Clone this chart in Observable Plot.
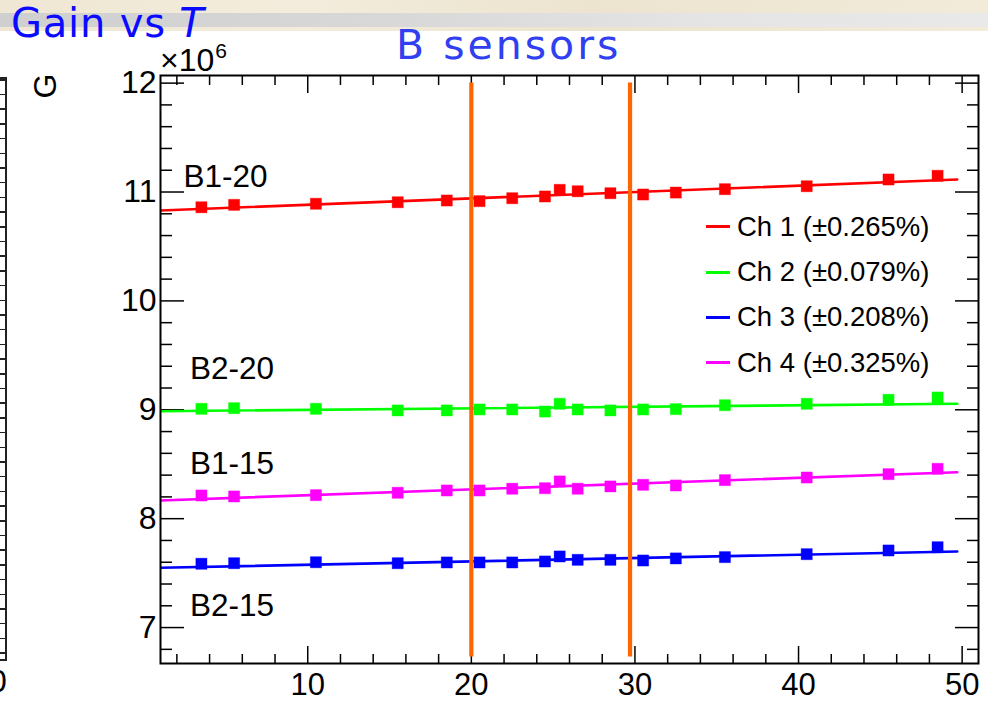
<!DOCTYPE html>
<html>
<head>
<meta charset="utf-8">
<script src="https://cdn.jsdelivr.net/npm/d3@7"></script>
<script src="https://cdn.jsdelivr.net/npm/@observablehq/plot@0.6"></script>
<style>
  html, body { margin: 0; padding: 0; background: #fff; width: 988px; height: 701px; overflow: hidden; }
  body { position: relative; font-family: "Liberation Sans", Arial, sans-serif; }
  #strip { position: absolute; left: 0; top: 0; width: 988px; height: 31px;
    background: linear-gradient(90deg, #efe7d3, #f3ecdc 30%, #ece4cf 60%, #f2ebda); }
  #band { position: absolute; left: 0; top: 13px; width: 988px; height: 14px;
    background: linear-gradient(90deg, #cfcfcf, #d8d8d8 40%, #e4e4e4 70%, #e9e9e9); }
  #chart { position: absolute; left: 0; top: 0; }
  .ttl { position: absolute; font-family: "DejaVu Sans", sans-serif; white-space: nowrap; line-height: 0.9; }
  #t1 { left: 11px; top: 5px; font-size: 40px; color: #0a0aff; letter-spacing: 0.8px; }
  #t2 { left: 396px; top: 27px; font-size: 41px; color: #3040f0; letter-spacing: 3px; }
  #mult { position: absolute; left: 160px; top: 46px; font-size: 32px; line-height: 0.9; color: #000; white-space: nowrap; }
  #mult sup { font-size: 21px; vertical-align: 0; position: relative; top: -13px; margin-left: 1px; }
  #gtitle { position: absolute; left: 32px; top: 70px; font-size: 32px; line-height: 1; color: #000;
    transform: rotate(-90deg); transform-origin: 50% 50%; width: 26px; text-align: center; }
  #leftframe { position: absolute; left: 0; top: 77px; width: 5px; height: 580px;
    border-right: 2px solid #222; border-top: 2px solid #222; border-bottom: 2px solid #222;
    background: repeating-linear-gradient(to bottom, #222 0px, #222 1.5px, transparent 1.5px, transparent 14.7px); }
  #leftzero { position: absolute; left: -11px; top: 665px; font-size: 32px; line-height: 1; color: #000; }
  #legend { position: absolute; left: 706px; top: 204px; font-size: 27.5px; color: #000; }
  #legend .row { height: 45.4px; display: flex; align-items: center; white-space: nowrap; }
  #legend .sw { width: 24px; height: 3px; margin-right: 7px; }
</style>
</head>
<body>
<div id="strip"></div>
<div id="band"></div>
<div id="leftframe"></div>
<div id="leftzero">0</div>
<div id="chart"></div>
<div class="ttl" id="t1">Gain vs <i>T</i></div>
<div class="ttl" id="t2">B sensors</div>
<div id="mult">×10<sup>6</sup></div>
<div id="gtitle">G</div>
<div id="legend"></div>
<script>
// ---- data ----
const temps = [3.5, 5.5, 10.5, 15.5, 18.5, 20.5, 22.5, 24.5, 25.4, 26.5, 28.5, 30.5, 32.5, 35.5, 40.5, 45.5, 48.5];
const ch1 = [10.860, 10.882, 10.892, 10.906, 10.922, 10.916, 10.943, 10.959, 11.020, 11.007, 10.989, 10.977, 10.995, 11.026, 11.053, 11.115, 11.149];
const ch2 = [9.009, 9.015, 9.009, 8.994, 8.994, 9.003, 9.003, 8.984, 9.055, 9.003, 8.994, 9.003, 9.006, 9.042, 9.055, 9.092, 9.113];
const ch3 = [7.586, 7.591, 7.600, 7.591, 7.598, 7.598, 7.598, 7.607, 7.653, 7.622, 7.622, 7.616, 7.635, 7.647, 7.674, 7.708, 7.738];
const ch4 = [8.213, 8.204, 8.216, 8.238, 8.259, 8.259, 8.275, 8.280, 8.342, 8.275, 8.296, 8.311, 8.305, 8.354, 8.378, 8.409, 8.458];

// linear fits (endpoints)
const fitT = [1, 49.7];
const fit1 = [10.830, 11.115];
const fit2 = [8.987, 9.055];
const fit3 = [7.549, 7.699];
const fit4 = [8.167, 8.427];

const seriesNames = ["Ch 1 (±0.265%)", "Ch 2 (±0.079%)", "Ch 3 (±0.208%)", "Ch 4 (±0.325%)"];
const seriesColors = ["#ff0000", "#00ff00", "#0000ff", "#ff00ff"];

const sensorLabels = ["B1-20", "B2-20", "B1-15", "B2-15"];
const sensorLabelT = [2.4, 2.8, 2.8, 2.8];
const sensorLabelG = [11.05, 9.287, 8.406, 7.103];

const cutT = [20, 29.7];
const cutSpan = [6.73, 12.0];

const xDomain = [1, 51];
const yDomain = [6.67, 12.07];
const xMajor = [10, 20, 30, 40, 50];
const xMinor = [2, 4, 6, 8, 12, 14, 16, 18, 22, 24, 26, 28, 32, 34, 36, 38, 42, 44, 46, 48];
const yMajor = [7, 8, 9, 10, 11, 12];
const yMinor = [6.8, 7.2, 7.4, 7.6, 7.8, 8.2, 8.4, 8.6, 8.8, 9.2, 9.4, 9.6, 9.8, 10.2, 10.4, 10.6, 10.8, 11.2, 11.4, 11.6, 11.8];

// ---- tables ----
const allSeries = [ch1, ch2, ch3, ch4];
const allFits = [fit1, fit2, fit3, fit4];
const pts = allSeries.flatMap((s, k) => temps.map((t, i) => ({t, g: s[i], k})));
const fits = allFits.flatMap((f, k) => fitT.map((t, i) => ({t, g: f[i], k})));
const labels = sensorLabels.map((name, i) => ({name, t: sensorLabelT[i], g: sensorLabelG[i]}));
const intFmt = d => String(d);

const tickOpts = {fill: "none", stroke: "#000", strokeWidth: 1.5, label: null};

const chart = Plot.plot({
  width: 988,
  height: 701,
  marginLeft: 160,
  marginRight: 10,
  marginTop: 75,
  marginBottom: 38,
  x: {domain: xDomain},
  y: {domain: yDomain},
  color: {domain: [0, 1, 2, 3], range: seriesColors, type: "ordinal"},
  style: {fontFamily: "'Liberation Sans', Arial, sans-serif", background: "transparent", color: "#000", overflow: "visible"},
  marks: [
    // inward ticks on all four sides
    Plot.axisX({anchor: "bottom", ticks: xMajor, tickSize: -17, ...tickOpts}),
    Plot.axisX({anchor: "bottom", ticks: xMinor, tickSize: -9, ...tickOpts}),
    Plot.axisX({anchor: "top", ticks: xMajor, tickSize: -17, ...tickOpts}),
    Plot.axisX({anchor: "top", ticks: xMinor, tickSize: -9, ...tickOpts}),
    Plot.axisY({anchor: "left", ticks: yMajor, tickSize: -24, ...tickOpts}),
    Plot.axisY({anchor: "left", ticks: yMinor, tickSize: -12, ...tickOpts}),
    Plot.axisY({anchor: "right", ticks: yMajor, tickSize: -24, ...tickOpts}),
    Plot.axisY({anchor: "right", ticks: yMinor, tickSize: -12, ...tickOpts}),
    // tick labels
    Plot.axisX({anchor: "bottom", ticks: xMajor, tickFormat: intFmt, tickSize: 0, tickPadding: 9, fontSize: 31, label: null, stroke: "none"}),
    Plot.axisY({anchor: "left", ticks: yMajor, tickFormat: intFmt, tickSize: 0, tickPadding: 4, fontSize: 32, label: null, stroke: "none"}),
    // fits and points
    Plot.line(fits, {x: "t", y: "g", z: "k", stroke: "k", strokeWidth: 2.6, clip: true}),
    Plot.dot(pts, {x: "t", y: "g", fill: "k", symbol: "square", r: 6.3, stroke: "k", strokeOpacity: 0.35, strokeWidth: 1}),
    // sensor labels
    Plot.text(labels, {x: "t", y: "g", text: "name", textAnchor: "start", lineAnchor: "bottom", fontSize: 31.5, fill: "#000"}),
    // temperature cuts
    Plot.ruleX(cutT, {y1: cutSpan[0], y2: cutSpan[1], stroke: "#ff6600", strokeWidth: 4.2}),
    Plot.frame({stroke: "#000", strokeWidth: 2})
  ]
});
document.getElementById("chart").appendChild(chart);

// legend
const legend = document.getElementById("legend");
seriesNames.forEach((name, i) => {
  const row = document.createElement("div");
  row.className = "row";
  const sw = document.createElement("span");
  sw.className = "sw";
  sw.style.background = seriesColors[i];
  const tx = document.createElement("span");
  tx.textContent = name;
  row.appendChild(sw);
  row.appendChild(tx);
  legend.appendChild(row);
});
</script>
</body>
</html>
